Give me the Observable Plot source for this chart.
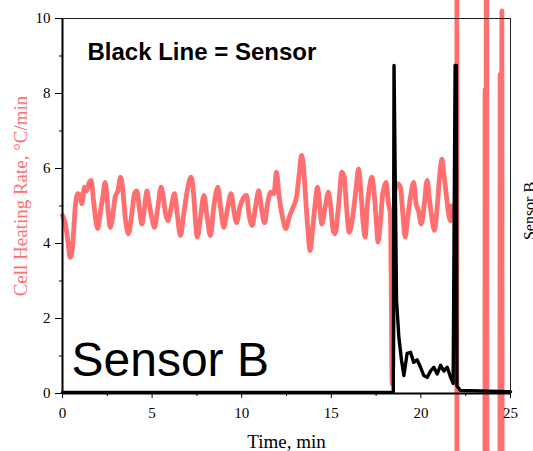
<!DOCTYPE html>
<html>
<head>
<meta charset="utf-8">
<script src="https://cdn.jsdelivr.net/npm/d3@7"></script>
<script src="https://cdn.jsdelivr.net/npm/@observablehq/plot@0.6"></script>
<style>
  html, body { margin: 0; padding: 0; background: #fff; overflow: hidden; width: 533px; height: 451px; }
  #chart svg { display: block; }
</style>
</head>
<body>
<div id="chart"></div>
<script>
// Red series: cell heating rate (°C/min) vs time (min); null = gap
const heatTime = [0.00,0.15,0.30,0.43,0.56,0.71,0.85,0.98,1.08,1.23,1.35,1.49,1.60,1.73,1.86,1.97,2.10,2.25,2.38,2.53,2.66,2.79,2.94,3.09,3.24,3.37,3.50,3.68,3.87,4.02,4.15,4.28,4.43,4.58,4.71,4.84,4.98,5.13,5.32,5.50,5.62,5.75,5.88,6.07,6.25,6.40,6.58,6.77,6.96,7.18,7.33,7.42,7.52,7.70,7.89,8.07,8.26,8.44,8.67,8.82,9.00,9.19,9.41,9.56,9.71,9.90,10.08,10.27,10.40,10.58,10.77,10.95,11.12,11.27,11.44,11.62,11.80,11.94,12.09,12.28,12.46,12.65,12.87,13.06,13.21,13.34,13.45,13.54,13.67,13.82,13.95,14.08,14.23,14.36,14.47,14.66,14.84,14.97,15.10,15.21,15.40,15.59,15.72,15.85,16.00,16.19,16.37,16.52,16.65,16.78,16.89,17.00,17.13,17.26,17.41,17.52,17.60,17.75,17.87,18.06,18.19,18.30,18.40,18.55,18.71,18.86,18.99,19.12,19.27,19.42,19.60,19.73,19.86,20.02,20.17,20.35,20.48,20.61,20.76,20.91,21.04,21.17,21.28,21.41,21.54,21.65,21.72,21.85,22.00,22.01,22.50,23.55,23.58,23.62,23.66,23.70,24.38,24.42,24.46,24.52,24.56];
const heatRate = [4.75,4.53,4.08,3.63,3.90,4.97,5.33,5.30,5.06,5.50,5.40,5.63,5.68,5.15,4.61,4.40,4.80,5.24,5.63,4.97,4.43,4.70,5.24,5.40,5.77,5.41,4.70,4.26,4.80,5.33,5.40,4.97,4.52,4.97,5.40,5.06,4.70,4.43,4.97,5.50,5.24,4.80,4.61,4.97,5.33,4.80,4.21,4.80,5.41,5.77,5.24,4.61,4.17,4.70,5.28,4.70,4.21,4.97,5.50,4.97,4.43,4.88,5.33,4.88,4.56,4.97,5.20,5.28,4.80,4.48,4.97,5.41,4.88,4.55,5.06,5.37,5.33,5.90,5.24,4.70,4.40,4.70,4.97,5.24,5.86,6.35,6.04,5.41,4.52,3.81,4.35,4.97,5.50,4.97,4.52,4.97,5.37,4.97,4.35,4.26,4.97,5.90,5.77,4.97,4.30,4.70,5.41,5.99,5.41,4.52,4.17,4.97,5.50,5.77,5.24,4.52,4.04,4.61,5.33,5.63,5.06,4.80,0.25,5.40,5.59,5.50,4.80,4.17,4.70,5.24,5.63,5.06,4.88,4.52,4.97,5.68,5.15,4.70,4.35,4.97,5.77,6.25,5.86,5.33,4.80,4.61,5.00,null,-40,40,null,-40,8.1,-40,40,-40,-40,8.5,-40,10.2,-40];

// Black series: sensor signal vs time (min)
const sensorTime = [0,18.46,18.50,18.64,18.77,18.92,19.05,19.23,19.42,19.60,19.79,19.98,20.16,20.35,20.54,20.72,20.91,21.10,21.28,21.47,21.66,21.80,21.91,21.98,22.01,22.21,25.00];
const sensorVal  = [0.03,0.03,8.75,2.48,1.50,0.88,0.48,1.07,1.10,0.83,0.90,0.70,0.48,0.43,0.60,0.70,0.52,0.75,0.60,0.70,0.43,0.27,8.75,8.75,0.20,0.08,0.05];

// Tick values
const xMajor = [0,5,10,15,20,25];
const xMinor = [2.5,7.5,12.5,17.5,22.5];
const yMajor = [0,2,4,6,8,10];
const yMinor = [1,3,5,7,9];

const heat = heatTime.map((t, i) => ({t, v: heatRate[i]}));
const sensor = sensorTime.map((t, i) => ({t, v: sensorVal[i]}));

const red = "#ff6f6f";
const sans = "'Liberation Sans', Arial, sans-serif";

const chart = Plot.plot({
  width: 533,
  height: 451,
  marginLeft: 62,
  marginRight: 23,
  marginTop: 18,
  marginBottom: 58,
  style: {fontFamily: "'Liberation Serif', 'Times New Roman', serif", fontSize: "15px", background: "#fff", color: "#000"},
  x: {domain: [0, 25], axis: null},
  y: {domain: [0, 10], axis: null},
  marks: [
    Plot.line(heat, {x: "t", y: "v", stroke: red, strokeWidth: 4.8, curve: "monotone-x"}),
    Plot.line(sensor, {x: "t", y: "v", stroke: "#000", strokeWidth: 3.4, curve: "linear"}),
    Plot.ruleX([0], {stroke: "#000", strokeWidth: 2}),
    Plot.ruleY([0], {stroke: "#000", strokeWidth: 2}),
    Plot.ruleY([10], {stroke: "#222", strokeWidth: 1}),
    Plot.ruleX([25], {stroke: "#222", strokeWidth: 1}),
    Plot.axisX(xMajor, {anchor: "bottom", tickSize: 5, tickPadding: 9, tickFormat: d => String(d), label: null, fontSize: 15}),
    Plot.axisX(xMinor, {anchor: "bottom", tickSize: 3, tickFormat: () => "", label: null}),
    Plot.axisY(yMajor, {anchor: "left", tickSize: 7, tickPadding: 5, tickFormat: d => String(d), label: null, fontSize: 15}),
    Plot.axisY(yMinor, {anchor: "left", tickSize: 3, tickFormat: () => "", label: null}),
    Plot.text(["Time, min"], {frameAnchor: "bottom", dy: 48, textAnchor: "middle", lineAnchor: "middle", fontSize: 19, fill: "#000"}),
    Plot.text(["Cell Heating Rate, °C/min"], {frameAnchor: "left", dx: -42, dy: -10, rotate: -90, textAnchor: "middle", lineAnchor: "middle", fontSize: 19, fill: red}),
    Plot.text(["Sensor B"], {frameAnchor: "right", dx: 19, dy: 5, rotate: -90, textAnchor: "middle", lineAnchor: "middle", fontSize: 16, fill: "#000"}),
    Plot.text(["Black Line = Sensor"], {frameAnchor: "top-left", dx: 25, dy: 34, textAnchor: "start", lineAnchor: "middle", fontFamily: sans, fontWeight: "bold", fontSize: 24, fill: "#000"}),
    Plot.text(["Sensor B"], {frameAnchor: "bottom-left", dx: 9, dy: -33, textAnchor: "start", lineAnchor: "middle", fontFamily: sans, fontSize: 48, fill: "#000"})
  ]
});
document.getElementById("chart").appendChild(chart);
</script>
</body>
</html>
